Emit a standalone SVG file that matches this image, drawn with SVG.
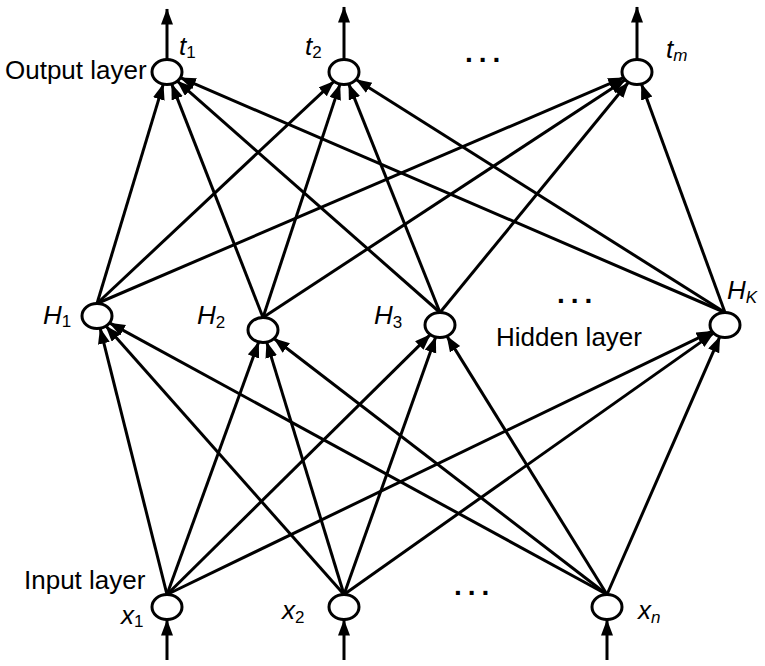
<svg xmlns="http://www.w3.org/2000/svg" width="765" height="666" viewBox="0 0 765 666">
<defs>
<marker id="ah" markerUnits="userSpaceOnUse" markerWidth="18" markerHeight="14" refX="15.5" refY="6" orient="auto">
<path d="M0,0 L16,6 L0,12 z" fill="#000"/>
</marker>
<style>
.n{fill:#fff;stroke:#000;stroke-width:3}
.c line{stroke:#000;stroke-width:3;marker-end:url(#ah)}
.t{font-family:"Liberation Sans",Arial,sans-serif;font-size:26px;fill:#000}
.i{font-family:"Liberation Sans",Arial,sans-serif;font-size:26px;font-style:italic;fill:#000}
.s{font-size:17px;font-style:normal}
.sm{font-size:17px}
.d{font-family:"Liberation Sans",Arial,sans-serif;font-size:28px;font-weight:bold;letter-spacing:6px;fill:#000}
</style>
</defs>
<rect width="765" height="666" fill="#fff"/>
<g id="connectors" class="c">
<line x1="167" y1="594.5" x2="100.1" y2="328.2"/>
<line x1="167" y1="594.5" x2="258.7" y2="342.0"/>
<line x1="167" y1="594.5" x2="430.3" y2="334.6"/>
<line x1="167" y1="594.5" x2="712.0" y2="331.3"/>
<line x1="344" y1="594.5" x2="105.9" y2="326.1"/>
<line x1="344" y1="594.5" x2="266.7" y2="342.1"/>
<line x1="344" y1="594.5" x2="435.7" y2="337.0"/>
<line x1="344" y1="594.5" x2="713.6" y2="333.1"/>
<line x1="607" y1="594.5" x2="109.5" y2="322.9"/>
<line x1="607" y1="594.5" x2="274.0" y2="338.5"/>
<line x1="607" y1="594.5" x2="446.9" y2="336.1"/>
<line x1="607" y1="594.5" x2="719.9" y2="336.7"/>
<line x1="97" y1="303.5" x2="163.3" y2="84.1"/>
<line x1="97" y1="303.5" x2="334.0" y2="81.3"/>
<line x1="97" y1="303.5" x2="623.7" y2="77.7"/>
<line x1="263" y1="317.5" x2="171.6" y2="83.9"/>
<line x1="263" y1="317.5" x2="340.0" y2="84.1"/>
<line x1="263" y1="317.5" x2="625.2" y2="79.7"/>
<line x1="440" y1="312.5" x2="177.3" y2="81.1"/>
<line x1="440" y1="312.5" x2="348.7" y2="83.9"/>
<line x1="440" y1="312.5" x2="628.5" y2="82.3"/>
<line x1="725" y1="312.5" x2="180.3" y2="77.7"/>
<line x1="725" y1="312.5" x2="356.0" y2="79.5"/>
<line x1="725" y1="312.5" x2="641.4" y2="84.0"/>
<line x1="167" y1="59.5" x2="167" y2="9"/>
<line x1="344" y1="59.5" x2="344" y2="7"/>
<line x1="637" y1="59.5" x2="637" y2="7"/>
<line x1="167" y1="660" x2="167" y2="620"/>
<line x1="344" y1="660" x2="344" y2="620"/>
<line x1="607" y1="660" x2="607" y2="620"/>
</g>
<g id="t1"><ellipse class="n" cx="167" cy="72" rx="15" ry="12.5"/><text class="i" x="179" y="55">t<tspan class="s" dy="3">1</tspan></text></g>
<g id="t2"><ellipse class="n" cx="344" cy="72" rx="15" ry="12.5"/><text class="i" x="305" y="55">t<tspan class="s" dy="3">2</tspan></text></g>
<g id="tm"><ellipse class="n" cx="637" cy="72" rx="15" ry="12.5"/><text class="i" x="666" y="58">t<tspan class="sm" dy="3">m</tspan></text></g>
<g id="H1"><ellipse class="n" cx="97" cy="316" rx="15" ry="12.5"/><text class="i" x="43" y="324">H<tspan class="s" dy="3">1</tspan></text></g>
<g id="H2"><ellipse class="n" cx="263" cy="330" rx="15" ry="12.5"/><text class="i" x="197" y="324">H<tspan class="s" dy="4">2</tspan></text></g>
<g id="H3"><ellipse class="n" cx="440" cy="325" rx="15" ry="12.5"/><text class="i" x="374" y="324">H<tspan class="s" dy="4">3</tspan></text></g>
<g id="HK"><ellipse class="n" cx="725" cy="325" rx="15" ry="12.5"/><text class="i" x="727" y="299">H<tspan class="sm" dy="4">K</tspan></text></g>
<g id="x1"><ellipse class="n" cx="167" cy="607" rx="15" ry="12.5"/><text class="i" x="121" y="624">x<tspan class="s" dy="3">1</tspan></text></g>
<g id="x2"><ellipse class="n" cx="344" cy="607" rx="15" ry="12.5"/><text class="i" x="282" y="619">x<tspan class="s" dy="4">2</tspan></text></g>
<g id="xn"><ellipse class="n" cx="607" cy="607" rx="15" ry="12.5"/><text class="i" x="638" y="619">x<tspan class="sm" dy="4">n</tspan></text></g>
<g id="labels">
<text class="t" x="5" y="79">Output layer</text>
<text class="t" x="496" y="346">Hidden layer</text>
<text class="t" x="24" y="589">Input layer</text>
<text class="d" x="465" y="62">...</text>
<text class="d" x="557" y="303">...</text>
<text class="d" x="454" y="595">...</text>
</g>
</svg>
